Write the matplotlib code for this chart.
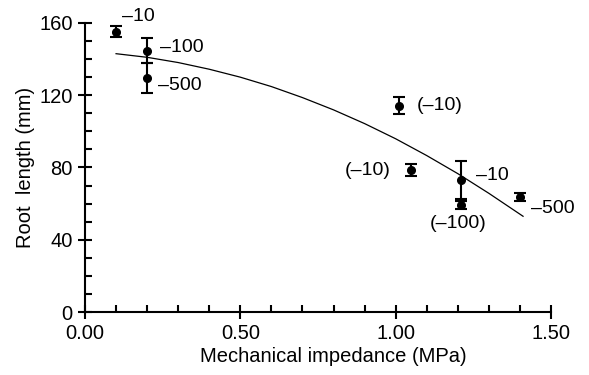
import numpy as np
import matplotlib
matplotlib.use("Agg")
import matplotlib.pyplot as plt
from matplotlib.ticker import MultipleLocator, FormatStrFormatter

plt.rcParams["font.family"] = ["Liberation Sans", "DejaVu Sans"]

# measured points: impedance (MPa), root length (mm), error
impedance = [0.10, 0.20, 0.20, 1.01, 1.05, 1.21, 1.21, 1.40]
root_len = [155.2, 144.7, 129.4, 114.2, 78.6, 73.1, 59.2, 63.5]
root_err = [3.2, 6.8, 8.3, 4.7, 3.3, 10.5, 2.3, 2.3]
point_labels = ["\u201310", "\u2013100", "\u2013500", "(\u201310)", "(\u201310)",
                "\u201310", "(\u2013100)", "\u2013500"]

# fitted curve
curve_x = [0.10, 0.20, 0.30, 0.40, 0.50, 0.60, 0.70, 0.80, 0.90, 1.00,
           1.10, 1.20, 1.30, 1.41]
curve_y = [143.0, 141.0, 138.1, 134.4, 130.0, 124.8, 118.7, 111.9, 104.3,
           95.9, 86.6, 76.6, 65.7, 53.0]

# label offsets (points) and alignment
offsets = [(4, 11), (9, 2), (8, -5), (13, 0), (-15, 0), (11, 3), (-2, -13), (8, -8)]
aligns = ["left", "left", "left", "left", "right", "left", "center", "left"]

fig = plt.figure(figsize=(5.89, 3.75), dpi=100)
ax = fig.add_axes([0.1443, 0.168, 0.7912, 0.7707])

ax.plot(curve_x, curve_y, color="black", lw=0.9)
ax.errorbar(impedance, root_len, yerr=root_err, fmt="o", color="black",
            ms=5.5, elinewidth=1.5, capsize=4, capthick=1.5)

for x, y, lab, off, ha in zip(impedance, root_len, point_labels, offsets, aligns):
    ax.annotate(lab, (x, y), xytext=off, textcoords="offset points",
                ha=ha, va="center", fontsize=14)

ax.set_xlim(0, 1.5)
ax.set_ylim(0, 160)
ax.xaxis.set_major_locator(MultipleLocator(0.5))
ax.xaxis.set_minor_locator(MultipleLocator(0.1))
ax.xaxis.set_major_formatter(FormatStrFormatter("%.2f"))
ax.yaxis.set_major_locator(MultipleLocator(40))
ax.yaxis.set_minor_locator(MultipleLocator(10))

for s in ["top", "right"]:
    ax.spines[s].set_visible(False)
for s in ["left", "bottom"]:
    ax.spines[s].set_linewidth(1.5)

ax.tick_params(which="major", direction="inout", length=9.5, width=1.5,
               labelsize=14.5, pad=4)
ax.tick_params(which="minor", direction="in", length=5, width=1.5)

ax.set_xlabel("Mechanical impedance (MPa)", fontsize=14.5)
ax.xaxis.set_label_coords(0.532, -0.122)
ax.set_ylabel("Root  length (mm)", fontsize=14.5, labelpad=3)

fig.savefig("out.png", dpi=100)
